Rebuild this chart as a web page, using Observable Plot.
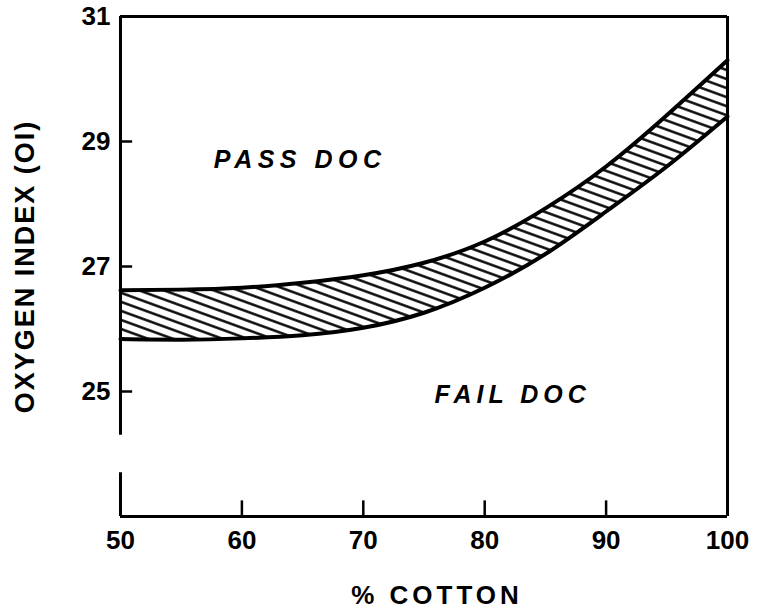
<!DOCTYPE html>
<html>
<head>
<meta charset="utf-8">
<script src="https://cdn.jsdelivr.net/npm/d3@7"></script>
<script src="https://cdn.jsdelivr.net/npm/@observablehq/plot@0.6"></script>
<style>
  html, body { margin: 0; padding: 0; background: #fff; }
  #chart { width: 759px; height: 613px; }
</style>
</head>
<body>
<div id="chart"></div>
<script>
// Data
const cotton  = [50, 55, 60, 65, 70, 75, 80, 85, 90, 95, 100];
const upperOI = [26.62, 26.63, 26.66, 26.74, 26.86, 27.06, 27.40, 27.93, 28.60, 29.42, 30.3];
const lowerOI = [25.84, 25.83, 25.85, 25.90, 26.02, 26.26, 26.66, 27.20, 27.88, 28.60, 29.4];

const xTicks = [50, 60, 70, 80, 90, 100];
const yTicks = [25, 27, 29, 31];
const xInnerTicks = [60, 70, 80, 90];
const yInnerTicks = [25, 27, 29];

const regionLabels = ["PASS DOC", "FAIL DOC"];
const regionX = [64.8, 82.3];
const regionY = [28.7, 24.95];

const xTitle = "% COTTON";
const yTitle = "OXYGEN INDEX (OI)";

const band = cotton.map((c, i) => ({c, lo: lowerOI[i], hi: upperOI[i]}));
const regions = regionLabels.map((t, i) => ({t, x: regionX[i], y: regionY[i]}));

const font = "'Liberation Sans', Arial, Helvetica, sans-serif";

const svg = Plot.plot({
  width: 759,
  height: 613,
  marginLeft: 120,
  marginRight: 32,
  marginTop: 16,
  marginBottom: 97,
  style: {fontFamily: font, background: "white", color: "black", overflow: "visible"},
  x: {domain: [50, 100]},
  y: {domain: [23, 31]},
  marks: [
    Plot.areaY(band, {x: "c", y1: "lo", y2: "hi", fill: "url(#hatch)", curve: "natural"}),
    Plot.line(band, {x: "c", y: "hi", stroke: "black", strokeWidth: 4, curve: "natural"}),
    Plot.line(band, {x: "c", y: "lo", stroke: "black", strokeWidth: 4, curve: "natural"}),
    // frame (left side has a scale break)
    Plot.ruleX([50], {y1: 24.3, y2: 31, stroke: "black", strokeWidth: 3}),
    Plot.ruleX([50], {y1: 23, y2: 23.7, stroke: "black", strokeWidth: 3}),
    Plot.ruleX([100], {y1: 23, y2: 31, stroke: "black", strokeWidth: 3}),
    Plot.ruleY([31], {x1: 50, x2: 100, stroke: "black", strokeWidth: 3}),
    Plot.ruleY([23], {x1: 50, x2: 100, stroke: "black", strokeWidth: 3}),
    // inward ticks
    Plot.ruleY(yInnerTicks, {x1: 50, x2: 51, stroke: "black", strokeWidth: 2.5}),
    Plot.ruleX(xInnerTicks, {y1: 23, y2: 23.25, stroke: "black", strokeWidth: 2.5}),
    Plot.axisX({ticks: xTicks, tickSize: 0, tickPadding: 14, fontSize: 26, fontWeight: "bold", label: null}),
    Plot.axisY({ticks: yTicks, tickSize: 0, tickPadding: 10, fontSize: 26, fontWeight: "bold", label: null}),
    Plot.text(regions, {x: "x", y: "y", text: "t", fontSize: 25, fontStyle: "italic", fontWeight: "bold"}),
    Plot.text([xTitle], {frameAnchor: "bottom", dy: 79, dx: 13, textAnchor: "middle", lineAnchor: "middle", fontSize: 26, fontWeight: "bold"}),
    Plot.text([yTitle], {frameAnchor: "left", dx: -95, rotate: -90, textAnchor: "middle", lineAnchor: "middle", fontSize: 27, fontWeight: "bold"})
  ]
});

// letter spacing for the hand-lettered look
const spacing = {"PASS DOC": 5.5, "FAIL DOC": 5, "% COTTON": 4, "OXYGEN INDEX (OI)": 2};
d3.select(svg).selectAll("text").each(function() {
  const s = spacing[this.textContent];
  if (s != null) this.style.letterSpacing = s + "px";
});

const defs = d3.select(svg).insert("defs", ":first-child");
const pat = defs.append("pattern")
  .attr("id", "hatch")
  .attr("patternUnits", "userSpaceOnUse")
  .attr("width", 14)
  .attr("height", 8.5)
  .attr("patternTransform", "rotate(20)");
pat.append("rect").attr("width", 14).attr("height", 8.5).attr("fill", "white");
pat.append("line").attr("x1", 0).attr("y1", 4.25).attr("x2", 14).attr("y2", 4.25)
  .attr("stroke", "black").attr("stroke-width", 2.4);

document.getElementById("chart").appendChild(svg);
</script>
</body>
</html>
